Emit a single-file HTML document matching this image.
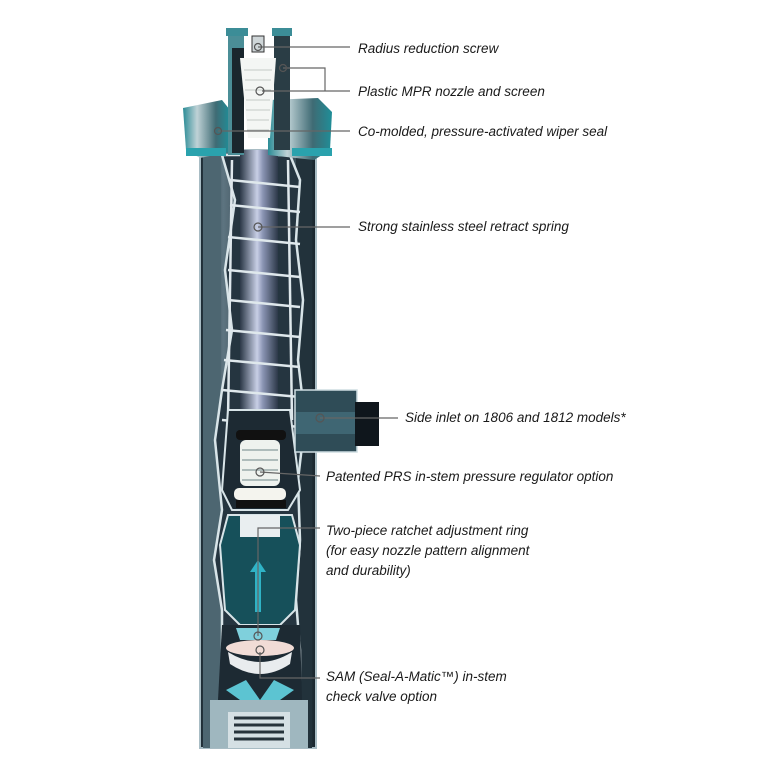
<!DOCTYPE html>
<html><head><meta charset="utf-8"><style>
html,body{margin:0;padding:0;background:#fff;}
svg{display:block}
text{font-family:"Liberation Sans",sans-serif;font-style:italic;font-size:13.5px;fill:#1a1a1a}
</style></head><body>
<svg width="781" height="781" viewBox="0 0 781 781" xmlns="http://www.w3.org/2000/svg">
<defs>
<linearGradient id="tube" x1="0" x2="1">
<stop offset="0" stop-color="#1c2a33"/><stop offset="0.2" stop-color="#5d7480"/><stop offset="0.5" stop-color="#2a3a44"/><stop offset="0.85" stop-color="#3e525c"/><stop offset="1" stop-color="#16222a"/>
</linearGradient>
<linearGradient id="stem" x1="0" x2="1">
<stop offset="0" stop-color="#2b3847"/><stop offset="0.45" stop-color="#c8cfe6"/><stop offset="0.6" stop-color="#8b95b4"/><stop offset="1" stop-color="#2c3848"/>
</linearGradient>
<linearGradient id="cap" x1="0" x2="1">
<stop offset="0" stop-color="#2b8c96"/><stop offset="0.3" stop-color="#bfd2d6"/><stop offset="0.7" stop-color="#3f6b74"/><stop offset="1" stop-color="#1f8e98"/>
</linearGradient>
</defs>
<!-- outer body -->
<rect x="200" y="150" width="116" height="598" fill="url(#tube)"/>
<rect x="200" y="150" width="116" height="598" fill="none" stroke="#a8bcc4" stroke-width="2"/>
<rect x="203" y="150" width="18" height="598" fill="#4d6671"/>
<rect x="296" y="150" width="16" height="598" fill="#22323b"/>
<!-- inner cut-away -->
<path d="M222 155 L235 200 L225 270 L232 330 L222 390 L215 440 L222 510 L214 560 L222 610 L222 650 L222 700 L300 700 L300 650 L296 600 L300 540 L298 480 L305 420 L298 360 L303 300 L296 240 L300 180 L290 155 Z" fill="#253540" stroke="#d8e4e8" stroke-width="2.5"/>
<!-- stem -->
<rect x="240" y="150" width="38" height="270" fill="url(#stem)"/>
<!-- spring lines -->
<g stroke="#dfe8ec" stroke-width="2.5" fill="none">
<path d="M230 180 L300 187"/><path d="M230 205 L300 212"/><path d="M228 237 L300 244"/><path d="M228 270 L300 277"/><path d="M228 300 L300 307"/><path d="M226 330 L300 337"/><path d="M224 360 L300 367"/><path d="M222 390 L300 397"/><path d="M222 420 L300 427"/>
<path d="M232 160 L228 420"/><path d="M288 160 L292 420"/>
</g>
<!-- pressure regulator chamber -->
<path d="M228 410 L290 410 L300 490 L288 510 L232 510 L222 490 Z" fill="#1d2a33" stroke="#d8e4e8" stroke-width="2"/>
<rect x="236" y="430" width="50" height="10" rx="4" fill="#111"/>
<rect x="240" y="440" width="40" height="46" rx="6" fill="#eef2ee"/>
<g stroke="#9aa" stroke-width="1.5"><path d="M242 450h36M242 460h36M242 470h36M242 480h36"/></g>
<rect x="234" y="488" width="52" height="12" rx="5" fill="#f4f4ee"/>
<rect x="236" y="500" width="50" height="8" fill="#111"/>
<!-- ratchet body -->
<path d="M228 515 L292 515 L300 545 L295 610 L280 625 L240 625 L225 610 L220 545 Z" fill="#16505a" stroke="#d8e4e8" stroke-width="2"/>
<rect x="240" y="515" width="40" height="22" fill="#e9eef0"/>
<path d="M258 560 l-8 12 h5 v40 h6 v-40 h5 z" fill="#2fb3c6"/>
<!-- check valve -->
<path d="M222 625 L300 625 L302 700 L218 700 Z" fill="#1d2a33"/>
<path d="M236 628 L280 628 L276 640 L240 640 Z" fill="#7fd0dc"/>
<ellipse cx="260" cy="648" rx="34" ry="8" fill="#f1dcd6"/>
<path d="M228 652 Q260 672 292 652 L290 664 Q260 684 230 664 Z" fill="#e9ecee"/>
<path d="M226 690 L246 680 L260 700 L274 680 L294 690 L280 700 L240 700 Z" fill="#5cc4d2"/>
<!-- base threaded -->
<rect x="210" y="700" width="98" height="48" fill="#9fb7bf"/>
<rect x="228" y="712" width="62" height="36" fill="#d5e0e4"/>
<g stroke="#26333b" stroke-width="3"><path d="M234 718h50M234 725h50M234 732h50M234 739h50"/></g>
<!-- side inlet -->
<rect x="295" y="390" width="62" height="62" fill="#2f4c57" stroke="#cfdde2" stroke-width="1.5"/>
<rect x="296" y="412" width="60" height="22" fill="#3f6673"/>
<rect x="355" y="402" width="24" height="44" fill="#0f161c"/>
<!-- cap -->
<path d="M183 108 L222 100 L230 110 L230 152 L200 158 L186 150 Z" fill="url(#cap)"/>
<path d="M268 100 L318 98 L332 112 L330 150 L314 160 L268 155 Z" fill="url(#cap)"/>
<rect x="186" y="148" width="40" height="8" fill="#2aa2ad"/>
<rect x="292" y="148" width="40" height="8" fill="#2aa2ad"/>
<!-- nozzle -->
<rect x="228" y="30" width="16" height="125" fill="#4b8e97"/>
<rect x="274" y="30" width="16" height="120" fill="#2a3d45"/>
<rect x="232" y="48" width="12" height="105" fill="#1a262d"/>
<path d="M240 58 L276 58 L270 138 L248 138 Z" fill="#f4f6f4"/>
<g stroke="#c4c9c6" stroke-width="1"><path d="M244 70h28M245 80h26M245 90h26M246 100h24M246 110h24M247 120h22M247 130h22"/></g>
<rect x="252" y="36" width="12" height="16" fill="#cfd6d8" stroke="#333" stroke-width="1"/>
<rect x="226" y="28" width="22" height="8" fill="#3c8d97"/>
<rect x="272" y="28" width="20" height="8" fill="#3c8d97"/>
<!-- leaders -->
<g stroke="#666" stroke-width="1.2" fill="none">
<path d="M258 47 H350"/>
<path d="M283 68 H325 V91"/><path d="M262 91 H350"/>
<path d="M218 131 H350"/>
<path d="M258 227 H350"/>
<path d="M320 418 H398"/>
<path d="M260 472 L320 476"/>
<path d="M258 636 V528 H320"/>
<path d="M260 652 V678 H320"/>
</g>
<g fill="none" stroke="#555" stroke-width="1.2">
<circle cx="258" cy="47" r="3.5"/><circle cx="283" cy="68" r="3.5"/><circle cx="260" cy="91" r="4"/>
<circle cx="218" cy="131" r="3.5"/><circle cx="258" cy="227" r="4"/><circle cx="320" cy="418" r="4"/>
<circle cx="260" cy="472" r="4"/><circle cx="258" cy="636" r="4"/><circle cx="260" cy="650" r="4"/>
</g>
<!-- labels -->
<text x="358" y="53">Radius reduction screw</text>
<text x="358" y="96">Plastic MPR nozzle and screen</text>
<text x="358" y="136">Co-molded, pressure-activated wiper seal</text>
<text x="358" y="231">Strong stainless steel retract spring</text>
<text x="405" y="422">Side inlet on 1806 and 1812 models*</text>
<text x="326" y="481">Patented PRS in-stem pressure regulator option</text>
<text x="326" y="535">Two-piece ratchet adjustment ring</text>
<text x="326" y="555">(for easy nozzle pattern alignment</text>
<text x="326" y="575">and durability)</text>
<text x="326" y="681">SAM (Seal-A-Matic™) in-stem</text>
<text x="326" y="701">check valve option</text>
</svg>
</body></html>
